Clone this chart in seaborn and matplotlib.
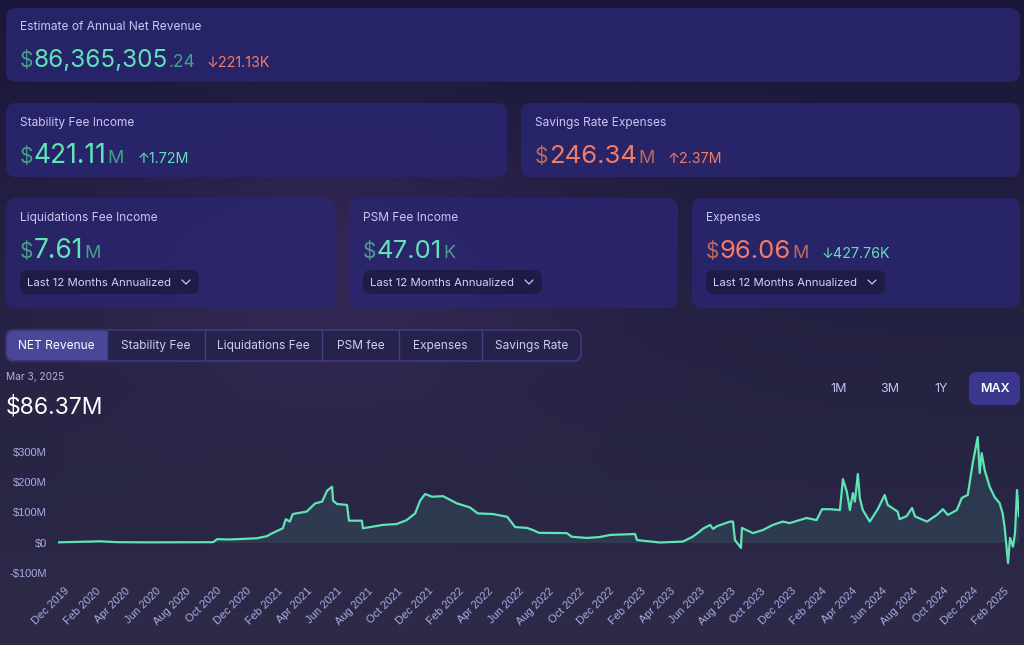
import numpy as np
import pandas as pd
import matplotlib
matplotlib.use("Agg")
import matplotlib.pyplot as plt
import matplotlib.dates as mdates
from matplotlib.patches import FancyBboxPatch, Rectangle
import seaborn as sns

# annualized NET revenue ($M)
dates = [
    "2019-11-18", "2020-01-21", "2020-02-10", "2020-03-16", "2020-05-21", "2020-09-25",
    "2020-10-03", "2020-10-29", "2020-12-22", "2021-01-11", "2021-01-21", "2021-02-12",
    "2021-02-18", "2021-02-26", "2021-03-04", "2021-03-18", "2021-04-01", "2021-04-18",
    "2021-05-02", "2021-05-12", "2021-05-22", "2021-05-24", "2021-06-01", "2021-06-21",
    "2021-06-25", "2021-07-21", "2021-07-23", "2021-09-01", "2021-09-29", "2021-10-19",
    "2021-11-05", "2021-11-15", "2021-11-25", "2021-12-09", "2021-12-31", "2022-01-28",
    "2022-02-23", "2022-03-11", "2022-04-10", "2022-05-09", "2022-05-25", "2022-06-18",
    "2022-06-30", "2022-07-12", "2022-09-06", "2022-09-16", "2022-10-16", "2022-11-11",
    "2022-12-02", "2023-01-21", "2023-01-25", "2023-03-12", "2023-04-27", "2023-05-17",
    "2023-05-31", "2023-06-06", "2023-06-21", "2023-06-27", "2023-07-05", "2023-07-31",
    "2023-08-06", "2023-08-10", "2023-08-22", "2023-08-24", "2023-09-15", "2023-10-05",
    "2023-10-25", "2023-11-14", "2023-11-28", "2024-01-01", "2024-01-21", "2024-02-01",
    "2024-02-17", "2024-03-08", "2024-03-14", "2024-03-22", "2024-03-28", "2024-04-03",
    "2024-04-07", "2024-04-13", "2024-04-17", "2024-04-23", "2024-05-07", "2024-05-23",
    "2024-06-06", "2024-06-12", "2024-07-02", "2024-07-06", "2024-07-20", "2024-07-31",
    "2024-08-06", "2024-08-30", "2024-09-19", "2024-10-01", "2024-10-11", "2024-10-29",
    "2024-11-08", "2024-11-20", "2024-11-30", "2024-12-10", "2024-12-14", "2024-12-18",
    "2024-12-24", "2025-01-03", "2025-01-13", "2025-01-23", "2025-01-29", "2025-02-02",
    "2025-02-09", "2025-02-13", "2025-02-19", "2025-02-23", "2025-02-27", "2025-03-03",
]
net_revenue = [
    0.5, 3, 4, 1, 0.5, 1,
    11, 10, 14, 21, 30, 47,
    77, 69, 94, 98, 102, 129,
    135, 171, 184, 138, 127, 124,
    72, 72, 47, 58, 61, 74,
    96, 138, 160, 151, 153, 129,
    116, 96, 94, 85, 51, 48,
    41, 32, 31, 19, 15, 18,
    25, 28, 8, 0, 3, 19,
    36, 45, 58, 45, 54, 69,
    69, 8, -18, 48, 31, 41,
    58, 69, 64, 81, 74, 110,
    110, 107, 209, 167, 107, 163,
    135, 226, 147, 107, 69, 110,
    157, 124, 102, 77, 87, 114,
    86, 69, 91, 110, 91, 107,
    147, 157, 262, 348, 229, 295,
    239, 184, 150, 130, 97, 52,
    -68, 15, -14, 31, 173, 86.37,
]

y_ticks = [-100, 0, 100, 200, 300]
y_labels = ["-$100M", "$0", "$100M", "$200M", "$300M"]

tabs = ["NET Revenue", "Stability Fee", "Liquidations Fee", "PSM fee", "Expenses", "Savings Rate"]
ranges = ["1M", "3M", "1Y", "MAX"]

sns.set_style("dark")
plt.rcParams["font.family"] = ["Inter", "DejaVu Sans"]

TEAL = "#5fe4b7"
TEAL_DIM = "#479f8a"
RED = "#f47c65"
RED_DIM = "#c2685b"
LABEL = "#c9c6f2"

df = pd.DataFrame({"date": pd.to_datetime(dates), "net_revenue": net_revenue})

W, H = 1024, 645
fig = plt.figure(figsize=(W / 100, H / 100), dpi=100)

# background, pixel coordinates
bg = fig.add_axes([0, 0, 1, 1])
yy, xx = np.mgrid[0:H, 0:W]
t = (yy / H)[..., None]
img = np.array([26, 23, 58]) * (1 - t) + np.array([45, 43, 72]) * t
glow = np.exp(-(((xx - 330) / 260.0) ** 2 + ((yy - 260) / 140.0) ** 2))
img = img + glow[..., None] * np.array([18, 8, 22])
bg.imshow(np.clip(img / 255, 0, 1), extent=(0, W, H, 0), aspect="auto", zorder=0)
bg.set_xlim(0, W)
bg.set_ylim(H, 0)
bg.axis("off")
renderer = fig.canvas.get_renderer()


def rbox(x0, y0, x1, y1, fc, r=10, ec="none", lw=0, alpha=1.0, z=1):
    p = FancyBboxPatch((x0 + r, y0 + r), x1 - x0 - 2 * r, y1 - y0 - 2 * r,
                       boxstyle=f"round,pad={r},rounding_size={r}",
                       fc=fc, ec=ec, lw=lw, alpha=alpha, zorder=z)
    bg.add_patch(p)


def put(x, y, parts):
    for s, size, color, gap in parts:
        txt = bg.text(x, y, s, fontsize=size, color=color, va="baseline", ha="left", zorder=5)
        x += txt.get_window_extent(renderer).width + gap
    return x


def dropdown(x, y):
    rbox(x, y, x + 179, y + 24, "#1d1b42", r=8, alpha=0.85, z=2)
    bg.text(x + 7, y + 12.5, "Last 12 Months Annualized", fontsize=8.2, color="#d3d1f3",
            va="center", ha="left", zorder=5)
    cx = x + 166
    bg.plot([cx - 4, cx, cx + 4], [y + 10, y + 14, y + 10], color="#c9c6f2", lw=0.9, zorder=5)


CARD = "#2a2672"
# row 1
rbox(6, 8, 1020, 82, CARD, alpha=0.82)
bg.text(20, 27, "Estimate of Annual Net Revenue", fontsize=8.6, color=LABEL, va="center", zorder=5)
put(20, 67, [("$", 15, TEAL_DIM, 0.5), ("86,365,305", 17.5, TEAL, 0), (".24", 12.5, TEAL_DIM, 12),
             ("↓221.13K", 10.3, RED, 0)])

# row 2
rbox(6, 103, 507, 177, CARD, alpha=0.82)
bg.text(20, 123, "Stability Fee Income", fontsize=8.6, color=LABEL, va="center", zorder=5)
put(20, 163, [("$", 15, TEAL_DIM, 0.5), ("421.11", 19, TEAL, 1), ("M", 13, TEAL_DIM, 13),
              ("↑1.72M", 10.3, TEAL, 0)])
rbox(521, 103, 1020, 177, CARD, alpha=0.82)
bg.text(535, 123, "Savings Rate Expenses", fontsize=8.6, color=LABEL, va="center", zorder=5)
put(535, 163, [("$", 15, RED_DIM, 0.5), ("246.34", 18.5, RED, 1), ("M", 13, RED_DIM, 13),
               ("↑2.37M", 10.3, RED, 0)])

# row 3
rbox(6, 198, 335, 308, CARD, alpha=0.75)
bg.text(20, 218, "Liquidations Fee Income", fontsize=8.6, color=LABEL, va="center", zorder=5)
put(20, 258, [("$", 15, TEAL_DIM, 0.5), ("7.61", 19, TEAL, 1), ("M", 13, TEAL_DIM, 0)])
dropdown(20, 270)

rbox(349, 198, 678, 308, CARD, alpha=0.78)
bg.text(363, 218, "PSM Fee Income", fontsize=8.6, color=LABEL, va="center", zorder=5)
put(363, 258, [("$", 15, TEAL_DIM, 0.5), ("47.01", 18.5, TEAL, 1), ("K", 13, TEAL_DIM, 0)])
dropdown(363, 270)

rbox(692, 198, 1020, 308, CARD, alpha=0.82)
bg.text(706, 218, "Expenses", fontsize=8.6, color=LABEL, va="center", zorder=5)
put(706, 258, [("$", 15, RED_DIM, 0.5), ("96.06", 18.5, RED, 1), ("M", 13, RED_DIM, 13),
               ("↓427.76K", 10.3, TEAL, 0)])
dropdown(706, 270)

# tab bar
edges = [6, 107, 205, 322, 399, 482, 581]
rbox(6, 330, 581, 361, "#25224c", r=8, ec="#433e86", lw=1.0, z=2)
rbox(7, 331, 107, 360, "#4a4698", r=7, z=3)
bg.add_patch(Rectangle((95, 331), 12, 29, fc="#4a4698", ec="none", zorder=3))
for e in edges[1:-1]:
    bg.plot([e, e], [331, 360], color="#433e86", lw=1.0, zorder=4)
for i, name in enumerate(tabs):
    cx = (edges[i] + edges[i + 1]) / 2
    bg.text(cx, 346, name, fontsize=8.6, color="white" if i == 0 else "#cfcdf0",
            ha="center", va="center", zorder=5)

bg.text(6, 377, "Mar 3, 2025", fontsize=7.3, color="#b3b0dd", va="center", zorder=5)
bg.text(6, 414, "$86.37M", fontsize=16.5, color="white", va="baseline", zorder=5)

# range buttons
rbox(969, 372, 1020, 405, "#3b368e", r=8, z=2)
for name, cx in zip(ranges, [839, 890, 941, 995]):
    bg.text(cx, 389, name, fontsize=9, color="white" if name == "MAX" else "#c4c2ee",
            ha="center", va="center", zorder=5,
            fontweight="semibold" if name == "MAX" else "normal")

# chart
px_zero, px_per_m = 542.5, 0.303
y_lo, y_hi = -120, 360
b_px = px_zero - y_lo * px_per_m
t_px = px_zero - y_hi * px_per_m
ax = fig.add_axes([58 / W, 1 - b_px / H, 961 / W, (b_px - t_px) / H])
ax.set_facecolor("none")
ax.fill_between(df["date"], df["net_revenue"], 0, color=TEAL, alpha=0.1, lw=0)
sns.lineplot(data=df, x="date", y="net_revenue", ax=ax, color=TEAL, linewidth=1.6)
ax.set_xlim(df["date"].iloc[0], df["date"].iloc[-1])
ax.set_ylim(y_lo, y_hi)
ax.set_yticks(y_ticks)
ax.set_yticklabels(y_labels)
ax.xaxis.set_major_locator(mdates.MonthLocator(bymonth=[2, 4, 6, 8, 10, 12]))
ax.xaxis.set_major_formatter(mdates.DateFormatter("%b %Y"))
ax.set_xlabel("")
ax.set_ylabel("")
ax.grid(False)
for s in ax.spines.values():
    s.set_visible(False)
ax.tick_params(axis="both", length=0, colors="#aca9e6", labelsize=8)
ax.tick_params(axis="y", pad=8)
ax.tick_params(axis="x", pad=5)
for lab in ax.get_yticklabels() + ax.get_xticklabels():
    lab.set_family(["Liberation Sans", "DejaVu Sans"])
plt.setp(ax.get_xticklabels(), rotation=45, ha="right", rotation_mode="anchor")

fig.savefig("out.png", dpi=100)
